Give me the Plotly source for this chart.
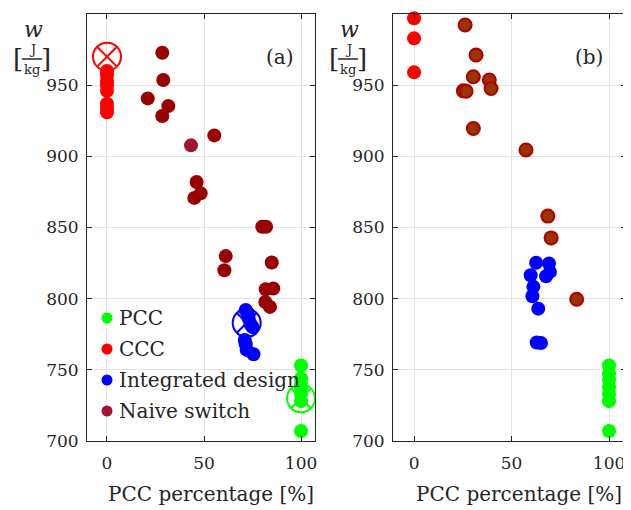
import plotly.graph_objects as go

# the page body adds an 8px margin; the figure fills the rest of the 631x510 window
OFF = 8
W, H = 631 - OFF, 510 - OFF

# ---------------- data, panel (a) ----------------
a_ccc_x = [0, 0, 0, 0, 0, 0, 0, 0]
a_ccc_y = [960, 957, 953, 950, 946, 937, 934, 931]
a_ccc_opt_x = [0]
a_ccc_opt_y = [970]

a_naive_x = [28.5, 29, 21, 31.6, 28.5, 55.3, 46.2, 48.3, 45, 80, 82, 61.2, 60.5, 84.9, 81.8, 85.7, 81.6, 84]
a_naive_y = [972.8, 953.6, 940.7, 935.3, 928.3, 914.7, 882, 874, 870.8, 850.5, 850.5, 829.9, 820, 825.4, 806.6, 807.1, 797.7, 794.2]
a_naive_sel_x = [43.3]
a_naive_sel_y = [907.7]

a_int_x = [71.5, 72.5, 73, 74, 75, 71, 71.5, 72, 75.5]
a_int_y = [792, 790, 786, 782, 780, 771, 768, 764, 761]
a_int_opt_x = [72]
a_int_opt_y = [783]

a_pcc_x = [100, 100, 100, 100, 100, 100, 100]
a_pcc_y = [753, 744, 740, 737, 733, 728, 707]
a_pcc_opt_x = [100]
a_pcc_opt_y = [730]

# ---------------- data, panel (b) ----------------
b_ccc_x = [0, 0, 0]
b_ccc_y = [997, 982.9, 959]

b_naive_x = [26.2, 31.8, 30.4, 38.6, 39.5, 25.3, 26.7, 30.4, 57.4, 68.6, 70.3, 83.4]
b_naive_y = [992.3, 971.2, 955.9, 953.6, 947.7, 946, 945.7, 919.6, 904.4, 858, 842.7, 799.6]

b_int_x = [62.6, 69.2, 69.7, 67.7, 59.8, 61.2, 60.7, 63.7, 62.9, 65.1]
b_int_y = [825.2, 824.7, 818.8, 815.8, 816.5, 808.3, 801.7, 793, 769.2, 768.9]

b_pcc_x = [100, 100, 100, 100, 100, 100, 100]
b_pcc_y = [753, 747, 743, 738, 733, 728, 707]

x_ticks = [0, 50, 100]
y_ticks = [700, 750, 800, 850, 900, 950, 1000]
legend_names = ["PCC", "CCC", "Integrated design", "Naive switch"]

# ---------------- styling ----------------
FONT = "DejaVu Serif"
TXT = "#262626"
GREEN, RED, BLUE = "#00ff00", "#ff0000", "#0000ff"
DARKRED = "#990000"
CRIMSON = "#a2142f"
BROWN = "#993300"
MS = 14
legend_colors = [GREEN, RED, BLUE, CRIMSON]
TICK_SIZE = 17
LABEL_SIZE = 20


def px(x):
    return (x - OFF) / W


def py(y):
    return 1 - (y - OFF) / H


fig = go.Figure()


def dots(x, y, color, xa, ya, line=None, size=MS):
    fig.add_trace(go.Scatter(
        x=x, y=y, mode="markers", xaxis=xa, yaxis=ya, showlegend=False,
        cliponaxis=False, hoverinfo="skip",
        marker=dict(size=size, color=color, line=line or dict(width=0)),
    ))


def opt(x, y, color, xa, ya):
    fig.add_trace(go.Scatter(
        x=x, y=y, mode="markers", xaxis=xa, yaxis=ya, showlegend=False,
        cliponaxis=False, hoverinfo="skip",
        marker=dict(size=28, symbol="circle-x-open", color=color,
                    line=dict(width=2, color=color)),
    ))


# panel (a)
opt(a_ccc_opt_x, a_ccc_opt_y, RED, "x", "y")
dots(a_ccc_x, a_ccc_y, RED, "x", "y")
dots(a_naive_x, a_naive_y, DARKRED, "x", "y")
dots(a_naive_sel_x, a_naive_sel_y, CRIMSON, "x", "y")
opt(a_int_opt_x, a_int_opt_y, BLUE, "x", "y")
dots(a_int_x, a_int_y, BLUE, "x", "y")
opt(a_pcc_opt_x, a_pcc_opt_y, GREEN, "x", "y")
dots(a_pcc_x, a_pcc_y, GREEN, "x", "y")

# panel (b)
dots(b_ccc_x, b_ccc_y, RED, "x2", "y2")
dots(b_naive_x, b_naive_y, BROWN, "x2", "y2", line=dict(width=2, color="#b00000"), size=13)
dots(b_int_x, b_int_y, BLUE, "x2", "y2")
dots(b_pcc_x, b_pcc_y, GREEN, "x2", "y2")

axis_common = dict(
    showline=True, linecolor=TXT, linewidth=1, mirror="ticks",
    ticks="inside", ticklen=5, tickcolor=TXT,
    showgrid=True, gridcolor="#e3e3e3", gridwidth=1, zeroline=False,
    tickfont=dict(family=FONT, size=TICK_SIZE, color=TXT),
)

fig.update_layout(
    width=W, height=H,
    margin=dict(l=0, r=0, t=0, b=0, autoexpand=False),
    paper_bgcolor="white", plot_bgcolor="white",
    xaxis=dict(domain=[px(87), px(315)], range=[-10.3, 107.2], tickvals=x_ticks,
               anchor="y", ticklabelstandoff=7, **axis_common),
    yaxis=dict(domain=[py(441), py(14)], range=[700, 1000], tickvals=y_ticks,
               anchor="x", ticklabelstandoff=4, **axis_common),
    xaxis2=dict(domain=[px(393), px(626)], range=[-10.8, 108.7], tickvals=x_ticks,
                anchor="y2", ticklabelstandoff=7, **axis_common),
    yaxis2=dict(domain=[py(441), py(14)], range=[700, 1000], tickvals=y_ticks,
                anchor="x2", ticklabelstandoff=4, **axis_common),
    showlegend=False,
)

ann = []


def text(x, y, s, size, anchor="center"):
    ann.append(dict(x=px(x), y=py(y), xref="paper", yref="paper", text=s,
                    showarrow=False, xanchor=anchor, yanchor="middle",
                    font=dict(family=FONT, size=size, color=TXT)))


for dx in (0, 316):
    text(33 + dx, 30, "<i>w</i>", 22)
    text(18 + dx, 59, "[", 26)
    text(46 + dx, 59, "]", 26)
    text(32 + dx, 49, "J", 13)
    text(32 + dx, 69, "kg", 13)
    fig.add_shape(type="line", xref="paper", yref="paper",
                  x0=px(22 + dx), x1=px(42 + dx), y0=py(59), y1=py(59),
                  line=dict(color=TXT, width=1.5))
text(280, 57, "(a)", LABEL_SIZE)
text(589, 57, "(b)", LABEL_SIZE)
text(211, 494, "PCC percentage [%]", LABEL_SIZE)
text(519, 494, "PCC percentage [%]", LABEL_SIZE)

# legend drawn inside panel (a)
r = 5.5
for i, (name, col) in enumerate(zip(legend_names, legend_colors)):
    yy = 318 + i * 31
    fig.add_shape(type="circle", xref="paper", yref="paper",
                  x0=px(107 - r), x1=px(107 + r), y0=py(yy + r), y1=py(yy - r),
                  fillcolor=col, line=dict(width=0))
    text(117, yy, name, LABEL_SIZE, anchor="left")

fig.update_layout(annotations=ann)

fig.write_html("out.html")
